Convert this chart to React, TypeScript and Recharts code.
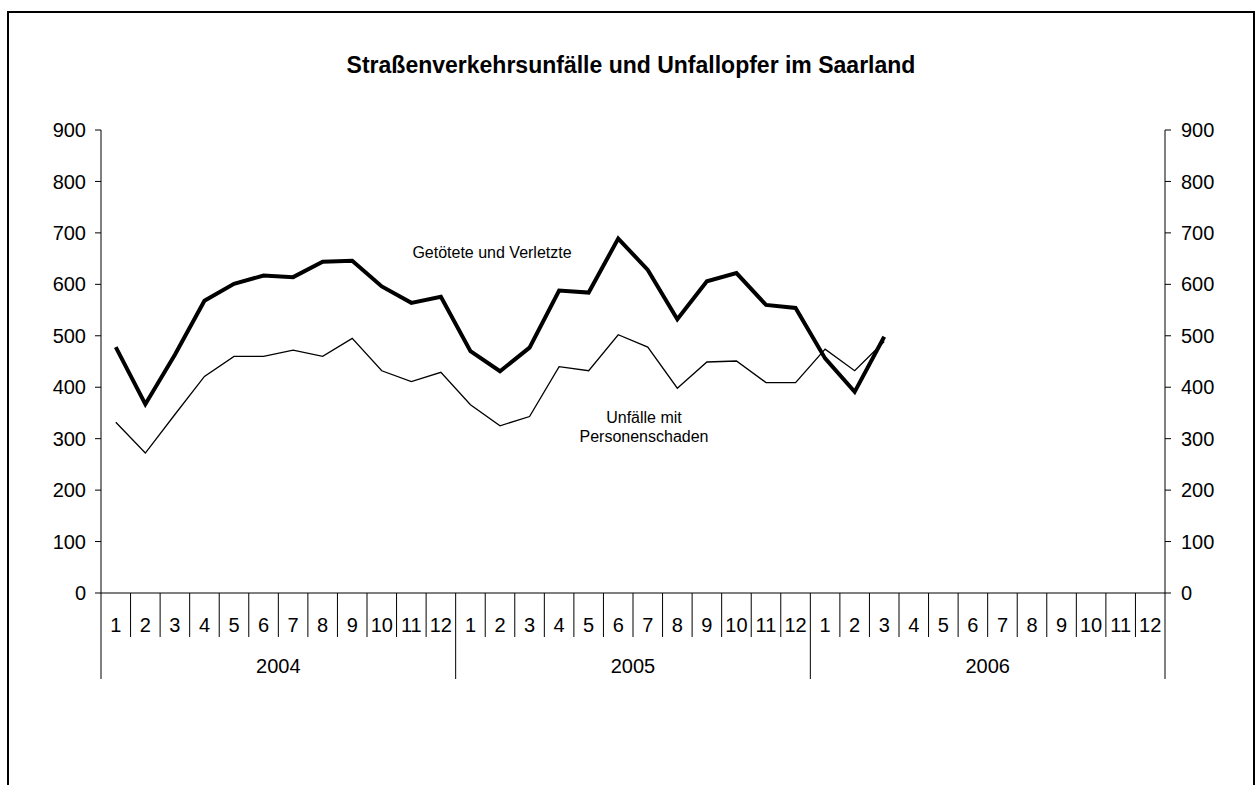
import React from 'react';
import { ComposedChart, Line, XAxis, YAxis } from 'recharts';

const years = ['2004', '2005', '2006'];
const months = ['1', '2', '3', '4', '5', '6', '7', '8', '9', '10', '11', '12'];

// Getötete und Verletzte
const injured = [
  478, 367, 463, 568, 601, 617, 614, 644, 646, 596, 564, 576,
  470, 431, 477, 588, 584, 689, 628, 532, 606, 622, 560, 554,
  456, 391, 498, null, null, null, null, null, null, null, null, null,
];

// Unfälle mit Personenschaden
const accidents = [
  332, 272, 347, 421, 460, 460, 472, 460, 495, 432, 411, 429,
  366, 325, 343, 440, 432, 502, 478, 398, 449, 451, 409, 409,
  474, 432, 489, null, null, null, null, null, null, null, null, null,
];

const yTicks = [0, 100, 200, 300, 400, 500, 600, 700, 800, 900];

const data = years.flatMap((year, yi) =>
  months.map((month, mi) => ({
    key: `${year}-${month}`,
    year,
    month,
    injured: injured[yi * 12 + mi],
    accidents: accidents[yi * 12 + mi],
  }))
);

const FONT = '"Liberation Sans", Arial, sans-serif';

// plot spans 101..1164 px, 36 months
const HALF_BAND = (1256 - 41 - 60 - 60 - 31) / data.length / 2;

const MonthTick = (props: any) => {
  const { x, y, payload } = props;
  const row = data[payload.index];
  const half = HALF_BAND;
  const isLast = payload.index === data.length - 1;
  return (
    <g>
      <line x1={x - half} x2={x - half} y1={y} y2={row.month === '1' ? y + 86 : y + 44} stroke="#000" strokeWidth={1} />
      {isLast && <line x1={x + half} x2={x + half} y1={y} y2={y + 86} stroke="#000" strokeWidth={1} />}
      <text x={x} y={y + 39} textAnchor="middle" fontSize={20} fontFamily={FONT} fill="#000">
        {row.month}
      </text>
      {row.month === '6' && (
        <text x={x + half} y={y + 80} textAnchor="middle" fontSize={20} fontFamily={FONT} fill="#000">
          {row.year}
        </text>
      )}
    </g>
  );
};

const tickStyle = { fontSize: 20, fontFamily: FONT, fill: '#000' };

export default function App() {
  return (
    <div style={{ position: 'absolute', left: 0, top: 0, width: 1256, height: 785, overflow: 'hidden', background: '#fff', fontFamily: FONT }}>
      <div style={{ position: 'absolute', left: 7, top: 11, width: 1248, height: 800, border: '2px solid #000', boxSizing: 'border-box' }} />
      <ComposedChart width={1256} height={785} data={data} margin={{ top: 130, right: 31, bottom: 92, left: 41 }}>
        <XAxis
          dataKey="key"
          xAxisId="x"
          scale="band"
          interval={0}
          tickLine={false}
          tickSize={0}
          tickMargin={0}
          height={100}
          axisLine={{ stroke: '#000' }}
          tick={(p: any) => <MonthTick {...p} />}
        />
        <YAxis
          yAxisId="left"
          orientation="left"
          domain={[0, 900]}
          ticks={yTicks}
          width={60}
          tickSize={6}
          tickMargin={9}
          axisLine={{ stroke: '#000' }}
          tickLine={{ stroke: '#000' }}
          tick={tickStyle}
        />
        <YAxis
          yAxisId="right"
          orientation="right"
          domain={[0, 900]}
          ticks={yTicks}
          width={60}
          tickSize={6}
          tickMargin={10}
          axisLine={{ stroke: '#000' }}
          tickLine={{ stroke: '#000' }}
          tick={tickStyle}
        />
        <Line
          xAxisId="x"
          yAxisId="right"
          dataKey="accidents"
          stroke="#000"
          strokeWidth={1.3}
          dot={false}
          activeDot={false}
          isAnimationActive={false}
        />
        <Line
          xAxisId="x"
          yAxisId="left"
          dataKey="injured"
          stroke="#000"
          strokeWidth={4}
          dot={false}
          activeDot={false}
          isAnimationActive={false}
        />
      </ComposedChart>
      <div style={{ position: 'absolute', left: 331, top: 52, width: 600, textAlign: 'center', fontSize: 23, fontWeight: 'bold', lineHeight: '26px' }}>
        Straßenverkehrsunfälle und Unfallopfer im Saarland
      </div>
      <div style={{ position: 'absolute', left: 392, top: 243, width: 200, textAlign: 'center', fontSize: 16, lineHeight: '19px' }}>
        Getötete und Verletzte
      </div>
      <div style={{ position: 'absolute', left: 544, top: 408, width: 200, textAlign: 'center', fontSize: 16, lineHeight: '19px' }}>
        Unfälle mit
        <br />
        Personenschaden
      </div>
    </div>
  );
}
